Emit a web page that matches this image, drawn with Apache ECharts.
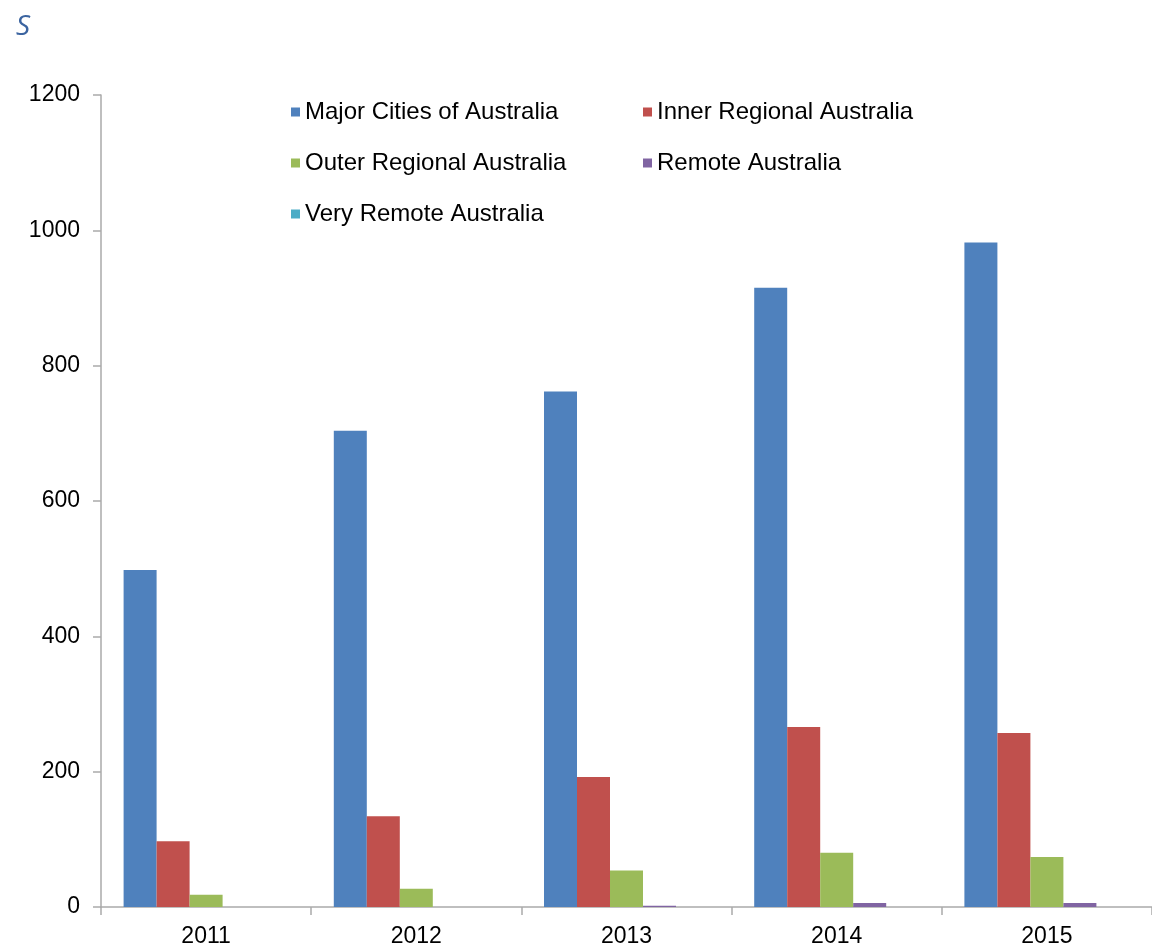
<!DOCTYPE html>
<html>
<head>
<meta charset="utf-8">
<script src="https://cdn.jsdelivr.net/npm/echarts@6/dist/echarts.min.js"></script>
<style>html,body{margin:0;padding:0;background:#fff}#c{width:1152px;height:948px}</style>
</head>
<body>
<div id="c"></div>
<script>
var categories = ['2011', '2012', '2013', '2014', '2015'];
var majorCities = [498, 704, 762, 915, 982];
var innerRegional = [97, 134, 192, 266, 257];
var outerRegional = [18, 27, 54, 80, 74];
var remote = [0, 0, 2, 6, 6];
var veryRemote = [0, 0, 0, 0, 0];
var yTicks = [0, 200, 400, 600, 800, 1000, 1200];

var names = ['Major Cities of Australia', 'Inner Regional Australia', 'Outer Regional Australia', 'Remote Australia', 'Very Remote Australia'];
var colors = ['#4f81bd', '#c0504d', '#9bbb59', '#8064a2', '#4bacc6'];
var values = [majorCities, innerRegional, outerRegional, remote, veryRemote];

var chart = echarts.init(document.getElementById('c'));
var legendText = { fontFamily: 'Liberation Sans, Arial, sans-serif', fontSize: 24, color: '#000', lineHeight: 24 };
chart.setOption({
  animation: false,
  textStyle: { fontFamily: 'Liberation Sans, Arial, sans-serif' },
  title: {
    text: 'S', left: 11, top: 8,
    textStyle: { fontStyle: 'italic', fontWeight: 'normal', fontSize: 28, color: '#3b64a0', fontFamily: 'Open Sans, sans-serif' }
  },
  legend: [
    { data: [names[0], names[2], names[4]], orient: 'vertical', left: 286, top: 95, itemWidth: 9, itemHeight: 9, itemGap: 27, itemStyle: { borderWidth: 0 }, icon: 'rect', textStyle: legendText },
    { data: [names[1], names[3]], orient: 'vertical', left: 638, top: 95, itemWidth: 9, itemHeight: 9, itemGap: 27, itemStyle: { borderWidth: 0 }, icon: 'rect', textStyle: legendText }
  ],
  grid: { left: 101, top: 95, height: 813, right: 0, containLabel: false },
  xAxis: {
    type: 'category', data: categories, boundaryGap: true,
    axisLine: { lineStyle: { color: '#aaaaaa', width: 1.5 } },
    axisTick: { show: true, length: 8, alignWithLabel: false, lineStyle: { color: '#aaaaaa', width: 1.5 } },
    axisLabel: { fontSize: 23, color: '#000', margin: 18 }
  },
  yAxis: {
    type: 'value', min: yTicks[0], max: yTicks[yTicks.length - 1], interval: 200,
    axisLine: { show: true, lineStyle: { color: '#aaaaaa', width: 1.5 } },
    axisTick: { show: true, length: 8, lineStyle: { color: '#aaaaaa', width: 1.5 } },
    splitLine: { show: false },
    axisLabel: { fontSize: 23, color: '#000', margin: 21, formatter: function (v) { return String(v); } }
  },
  series: values.map(function (v, i) {
    return { name: names[i], type: 'bar', data: v, barWidth: 33, barGap: '0%', itemStyle: { color: colors[i] } };
  })
});
</script>
</body>
</html>
